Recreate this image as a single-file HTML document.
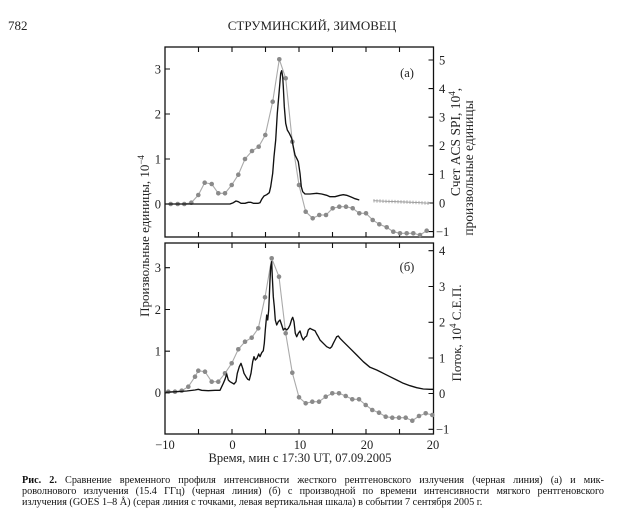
<!DOCTYPE html>
<html><head><meta charset="utf-8">
<style>
html,body{margin:0;padding:0;background:#fff;}
body{width:623px;height:530px;position:relative;overflow:hidden;font-family:"Liberation Serif","DejaVu Serif",serif;color:#111;}
.cap{position:absolute;left:22px;width:582px;font-size:10.2px;white-space:nowrap;line-height:11px;}
.j{text-align:justify;text-align-last:justify;}
</style></head><body>
<svg width="623" height="530" viewBox="0 0 623 530" style="position:absolute;left:0;top:0" font-family="Liberation Serif, DejaVu Serif, serif">
<!-- header -->
<text x="8" y="30" font-size="13" fill="#222">782</text>
<text x="312" y="30" font-size="13" fill="#222" text-anchor="middle">СТРУМИНСКИЙ, ЗИМОВЕЦ</text>

<!-- Panel a frame -->
<rect x="165" y="47" width="268.5" height="190" fill="none" stroke="#111" stroke-width="1.3"/>
<!-- Panel b frame -->
<rect x="165" y="243" width="268.5" height="191" fill="none" stroke="#111" stroke-width="1.3"/>

<g stroke="#111" stroke-width="1.1">
<path d="M198.5 47v5M232 47v5M265.5 47v5M299 47v5M332.5 47v5M366 47v5M399.5 47v5
M198.5 237v-5M232 237v-5M265.5 237v-5M299 237v-5M332.5 237v-5M366 237v-5M399.5 237v-5
M198.5 243v5M232 243v5M265.5 243v5M299 243v5M332.5 243v5M366 243v5M399.5 243v5
M198.5 434v-5M232 434v-5M265.5 434v-5M299 434v-5M332.5 434v-5M366 434v-5M399.5 434v-5"/>
<path d="M165 69h5M165 114h5M165 159h5M165 204h5"/>
<path d="M433.5 60h-5M433.5 88.6h-5M433.5 117.2h-5M433.5 145.8h-5M433.5 174.4h-5M433.5 203h-5M433.5 231.6h-5"/>
<path d="M165 267.7h5M165 309.5h5M165 351.2h5M165 392.9h5"/>
<path d="M433.5 250.7h-5M433.5 286.5h-5M433.5 322.3h-5M433.5 358h-5M433.5 393.5h-5M433.5 429.3h-5"/>
</g>

<g font-size="12.5" fill="#222">
<g text-anchor="end">
<text x="161" y="73.5">3</text><text x="161" y="118.5">2</text><text x="161" y="163.5">1</text><text x="161" y="208.5">0</text>
<text x="161" y="272">3</text><text x="161" y="314">2</text><text x="161" y="355.5">1</text><text x="161" y="397">0</text>
</g>
<g text-anchor="start">
<text x="439" y="64.5">5</text><text x="439" y="93">4</text><text x="439" y="121.5">3</text><text x="439" y="150">2</text><text x="439" y="178.5">1</text><text x="439" y="207.5">0</text><text x="436" y="236">−1</text>
<text x="439" y="255">4</text><text x="439" y="291">3</text><text x="439" y="326.5">2</text><text x="439" y="362.5">1</text><text x="439" y="398">0</text><text x="436" y="433.5">−1</text>
</g>
<g text-anchor="middle">
<text x="165" y="449">−10</text><text x="232.5" y="449">0</text><text x="300" y="449">10</text><text x="367" y="449">20</text><text x="433" y="449">20</text>
</g>
</g>
<text x="300" y="462" font-size="12.5" fill="#222" text-anchor="middle">Время, мин с 17:30 UT, 07.09.2005</text>

<text x="407" y="77" font-size="12.5" fill="#222" text-anchor="middle">(a)</text>
<text x="407" y="271" font-size="12.5" fill="#222" text-anchor="middle">(б)</text>

<text transform="translate(149,236) rotate(-90)" font-size="13" fill="#222" text-anchor="middle">Произвольные единицы, 10<tspan font-size="9" dy="-5">−4</tspan></text>
<text transform="translate(460,142) rotate(-90)" font-size="13.5" fill="#222" text-anchor="middle">Счет ACS SPI, 10<tspan font-size="9" dy="-5">4</tspan><tspan dy="5">,</tspan></text>
<text transform="translate(473,168) rotate(-90)" font-size="13.5" fill="#222" text-anchor="middle">произвольные единицы</text>
<text transform="translate(461,333) rotate(-90)" font-size="13" fill="#222" text-anchor="middle">Поток, 10<tspan font-size="9" dy="-5">4</tspan><tspan dy="5"> С.Е.П.</tspan></text>

<polyline fill="none" stroke="#aaa" stroke-width="1.1" points="170.7,204 177.7,204 184.3,204 191.3,202.7 198.3,195 204.7,182.7 211.7,184 218.3,193.3 225,193.3 231.7,185 238.3,174.7 245,159 252,151 258.7,146.7 265.3,135 272.7,101.7 279.3,59.3 285.7,78.3 292.3,141.7 299,185 305.7,211.7 312.7,218.3 319.3,215 326,215 332.7,208.3 339.3,206.7 346,206.7 352.7,208.3 359.3,213.3 366,213.3 372.7,220 379.3,224.3 386.7,227.3 393.3,231.7 400,233.3 406.7,233.3 413.3,233.3 420,235 426.7,230.7"/>
<g fill="#8a8a8a">
<circle cx="170.7" cy="204" r="2.3"/><circle cx="177.7" cy="204" r="2.3"/><circle cx="184.3" cy="204" r="2.3"/><circle cx="191.3" cy="202.7" r="2.3"/><circle cx="198.3" cy="195" r="2.3"/><circle cx="204.7" cy="182.7" r="2.3"/><circle cx="211.7" cy="184" r="2.3"/><circle cx="218.3" cy="193.3" r="2.3"/><circle cx="225" cy="193.3" r="2.3"/><circle cx="231.7" cy="185" r="2.3"/><circle cx="238.3" cy="174.7" r="2.3"/><circle cx="245" cy="159" r="2.3"/><circle cx="252" cy="151" r="2.3"/><circle cx="258.7" cy="146.7" r="2.3"/><circle cx="265.3" cy="135" r="2.3"/><circle cx="272.7" cy="101.7" r="2.3"/><circle cx="279.3" cy="59.3" r="2.3"/><circle cx="285.7" cy="78.3" r="2.3"/><circle cx="292.3" cy="141.7" r="2.3"/><circle cx="299" cy="185" r="2.3"/><circle cx="305.7" cy="211.7" r="2.3"/><circle cx="312.7" cy="218.3" r="2.3"/><circle cx="319.3" cy="215" r="2.3"/><circle cx="326" cy="215" r="2.3"/><circle cx="332.7" cy="208.3" r="2.3"/><circle cx="339.3" cy="206.7" r="2.3"/><circle cx="346" cy="206.7" r="2.3"/><circle cx="352.7" cy="208.3" r="2.3"/><circle cx="359.3" cy="213.3" r="2.3"/><circle cx="366" cy="213.3" r="2.3"/><circle cx="372.7" cy="220" r="2.3"/><circle cx="379.3" cy="224.3" r="2.3"/><circle cx="386.7" cy="227.3" r="2.3"/><circle cx="393.3" cy="231.7" r="2.3"/><circle cx="400" cy="233.3" r="2.3"/><circle cx="406.7" cy="233.3" r="2.3"/><circle cx="413.3" cy="233.3" r="2.3"/><circle cx="420" cy="235" r="2.3"/><circle cx="426.7" cy="230.7" r="2.3"/>
</g>

<polyline fill="none" stroke="#111" stroke-width="1.35" stroke-linejoin="round" points="165,204 230,204 233.3,202.7 236,201 238.3,201.7 241,203.3 245,203.3 248.3,202.3 250.7,202.3 253.3,203.3 258.3,203.3 260,202.7 261.7,199.3 264,196 266.7,194.7 269.3,192.7 270.7,186.7 272.7,173.3 274,156.7 275.7,140 277.3,113.3 279,93.3 280.7,73.3 281.7,70.7 282.7,76.7 283.3,86.7 284.3,106.7 285.7,123.3 287.3,130 289.3,133.3 291.7,138.3 293.3,146.7 295,155 296.7,158.3 298.3,161.7 300,173.3 301.3,186.7 302.7,191.7 305,194 310,194 316.7,193.3 321.7,194 326.7,195.3 330,196.7 335,196.7 340,195.3 343.3,194.7 346.7,195.3 351.7,197.3 355,198.7 359.3,200"/>
<polyline fill="none" stroke="#999" stroke-width="0.9" points="373.3,200.7 390,201.4 405,202 418,202.6 430,203.3"/>
<path stroke="#999" stroke-width="0.8" d="M374 199v3.5M377 199.2v3.5M380 199.3v3.5M383 199.5v3.5M386 199.6v3.5M389 199.7v3.5M392 199.8v3.5M395 199.9v3.5M398 200v3.5M401 200.1v3.5M404 200.2v3.5M407 200.3v3.5M410 200.5v3.5M413 200.6v3.5M416 200.8v3.5M419 200.9v3.5M422 201.1v3.5M425 201.3v3.5M428 201.5v3.5"/>

<polyline fill="none" stroke="#aaa" stroke-width="1.1" points="168.3,391.7 175,391.7 181.7,390.7 188.3,386.7 195,376.7 198.3,370.7 205,371.7 211.7,381.7 218.3,381.7 225,373.3 231.7,363.3 238.3,349.3 245,341.7 251.7,337.7 258.3,328.3 265,297.3 271.7,258.3 279,276.7 285.7,333.3 292.3,372.7 299,397.3 305.7,403.3 312.3,401.7 319,401.7 325.7,396.7 332.3,393.3 339,393.3 345.7,396 352.3,399.3 359,399.3 365.7,405 372.3,410 379,412.7 385.7,416.7 392.3,417.7 399,417.7 405.7,417.7 412.3,420.7 419,416 425.7,413.3 432.3,415"/>
<g fill="#8a8a8a">
<circle cx="168.3" cy="391.7" r="2.3"/><circle cx="175" cy="391.7" r="2.3"/><circle cx="181.7" cy="390.7" r="2.3"/><circle cx="188.3" cy="386.7" r="2.3"/><circle cx="195" cy="376.7" r="2.3"/><circle cx="198.3" cy="370.7" r="2.3"/><circle cx="205" cy="371.7" r="2.3"/><circle cx="211.7" cy="381.7" r="2.3"/><circle cx="218.3" cy="381.7" r="2.3"/><circle cx="225" cy="373.3" r="2.3"/><circle cx="231.7" cy="363.3" r="2.3"/><circle cx="238.3" cy="349.3" r="2.3"/><circle cx="245" cy="341.7" r="2.3"/><circle cx="251.7" cy="337.7" r="2.3"/><circle cx="258.3" cy="328.3" r="2.3"/><circle cx="265" cy="297.3" r="2.3"/><circle cx="271.7" cy="258.3" r="2.3"/><circle cx="279" cy="276.7" r="2.3"/><circle cx="285.7" cy="333.3" r="2.3"/><circle cx="292.3" cy="372.7" r="2.3"/><circle cx="299" cy="397.3" r="2.3"/><circle cx="305.7" cy="403.3" r="2.3"/><circle cx="312.3" cy="401.7" r="2.3"/><circle cx="319" cy="401.7" r="2.3"/><circle cx="325.7" cy="396.7" r="2.3"/><circle cx="332.3" cy="393.3" r="2.3"/><circle cx="339" cy="393.3" r="2.3"/><circle cx="345.7" cy="396" r="2.3"/><circle cx="352.3" cy="399.3" r="2.3"/><circle cx="359" cy="399.3" r="2.3"/><circle cx="365.7" cy="405" r="2.3"/><circle cx="372.3" cy="410" r="2.3"/><circle cx="379" cy="412.7" r="2.3"/><circle cx="385.7" cy="416.7" r="2.3"/><circle cx="392.3" cy="417.7" r="2.3"/><circle cx="399" cy="417.7" r="2.3"/><circle cx="405.7" cy="417.7" r="2.3"/><circle cx="412.3" cy="420.7" r="2.3"/><circle cx="419" cy="416" r="2.3"/><circle cx="425.7" cy="413.3" r="2.3"/><circle cx="432.3" cy="415" r="2.3"/>
</g>

<polyline fill="none" stroke="#111" stroke-width="1.35" stroke-linejoin="round" points="165.7,392.3 176.7,391.7 186.7,391 195,390 198.3,389.3 201.7,390.3 208.3,390.7 215,390.3 220,390.3 221.7,386.7 223.3,383.3 225,379.3 226.7,374 228.3,380 230,381.7 231.7,382.7 234,384 236,381.7 237.3,373.3 239.3,366.7 241,363.3 242.7,368.3 244,373.3 246,376.7 247.7,379.3 249.3,380 251,373.3 252.7,361.7 254,356.7 255.3,360 257,358.3 258.7,354 260,356.7 261.7,352.7 263.3,350.7 264.3,343.3 265.3,330 266.7,315 267.7,320 268.7,310 269.3,296.7 270,280 270.7,266.7 271.7,261.7 272.3,276.7 273.3,296.7 274.3,306.7 275.3,320 276.7,325 278.3,321.7 280,320 281.7,325 283.3,330 285,328.3 286.7,330 288.3,328.3 290,325 291.7,319.3 292.7,317.3 294,321.7 295.3,333.3 296.7,336.7 298.3,333.3 300,331 301.7,336.7 303.3,340 305,337.3 306.7,336 308.3,330 310,328.3 311.7,329.3 313.3,330 315,330.7 316.7,334 318.3,336.7 320,340 323.3,343.3 326.7,346.7 330,348.3 331.7,346.7 333.3,343.3 335,340 336.7,336.7 338.3,336 340,338.3 343.3,341.7 350,348.3 356.7,355 363.3,361.7 370,367.3 376.7,370 383.3,373.3 390,376.7 396.7,380 403.3,383.3 410,385.7 416.7,387.7 423.3,389 430,389.3 433.5,389.3"/>
</svg>

<div class="cap j" style="top:475px;"><b>Рис. 2.</b> Сравнение временного профиля интенсивности жесткого рентгеновского излучения (черная линия) (а) и мик-</div>
<div class="cap j" style="top:486px;">роволнового излучения (15.4 ГГц) (черная линия) (б) с производной по времени интенсивности мягкого рентгеновского</div>
<div class="cap" style="top:497px;">излучения (GOES 1–8 Å) (серая линия с точками, левая вертикальная шкала) в событии 7 сентября 2005 г.</div>
</body></html>
